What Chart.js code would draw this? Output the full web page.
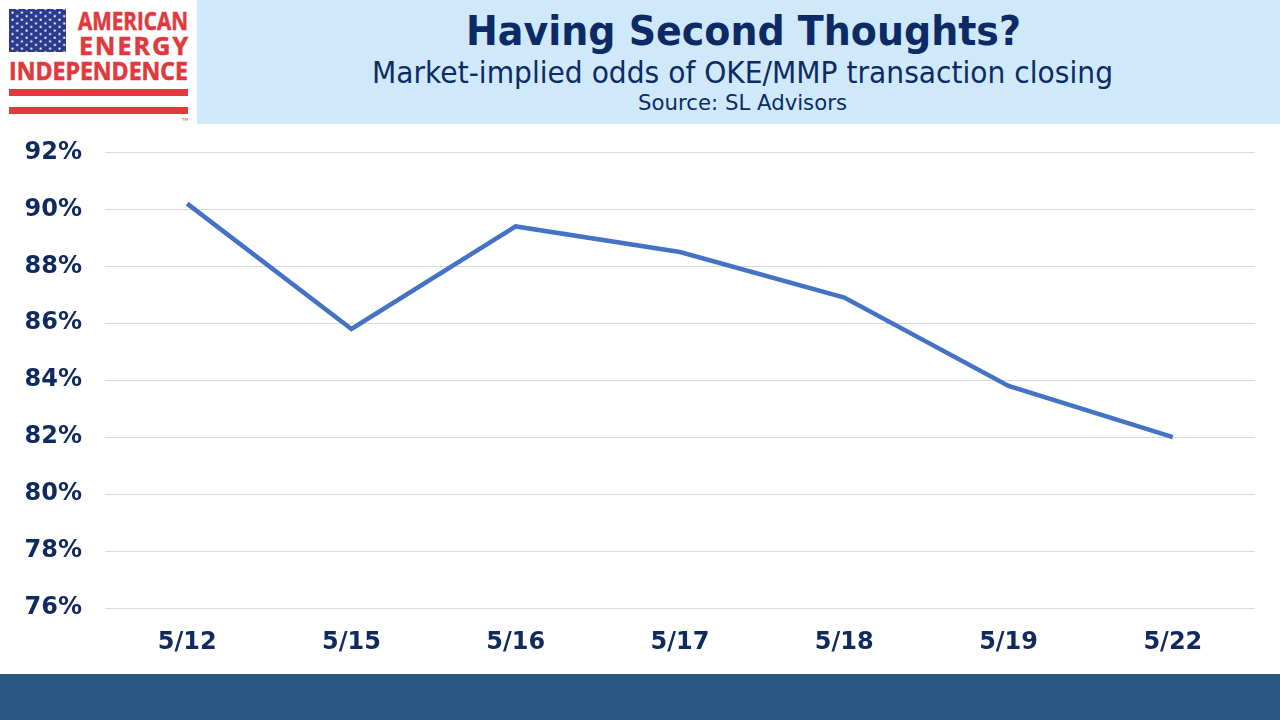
<!DOCTYPE html>
<html>
<head>
<meta charset="utf-8">
<script src="https://cdn.jsdelivr.net/npm/chart.js@4.4.1/dist/chart.umd.min.js"></script>
<style>
  html, body { margin: 0; padding: 0; background: #fff; }
  #page { position: relative; width: 1280px; height: 720px; overflow: hidden; background: #fff; }
  #head { position: absolute; left: 0; top: 0; }
  #plot { position: absolute; left: 0; top: 115px; width: 1280px; height: 558px; }
  #band { position: absolute; left: 0; top: 674px; width: 1280px; height: 46px; background: #2a5784; }
</style>
</head>
<body>
<div id="page">
  <svg id="head" width="1280" height="125" xmlns="http://www.w3.org/2000/svg">
    <defs>
      <pattern id="stars" x="11" y="11" width="9.4" height="7.2" patternUnits="userSpaceOnUse">
        <circle cx="1.5" cy="1.5" r="1.1" fill="#fff"/>
        <circle cx="6.2" cy="5.1" r="1.1" fill="#fff"/>
      </pattern>
    </defs>
    <!-- logo -->
    <rect x="9" y="9" width="57" height="43" fill="#2b3a8e"/>
    <rect x="9" y="9" width="57" height="43" fill="url(#stars)"/>
    <g font-family="'Open Sans', 'DejaVu Sans', sans-serif" font-weight="bold" fill="#e03a3e" stroke="#e03a3e" stroke-width="0.6">
      <text x="78" y="30" font-size="25" textLength="110" lengthAdjust="spacingAndGlyphs">AMERICAN</text>
      <text x="79" y="55" font-size="25" textLength="109">ENERGY</text>
      <text x="9" y="80" font-size="25" textLength="179" lengthAdjust="spacingAndGlyphs">INDEPENDENCE</text>
    </g>
    <rect x="9" y="89" width="179" height="7" fill="#e03a3e"/>
    <rect x="9" y="107" width="179" height="7" fill="#e03a3e"/>
    <text x="182" y="121" font-size="4" fill="#777" font-family="DejaVu Sans">TM</text>
    <!-- header -->
    <rect x="197" y="0" width="1083" height="124" fill="#cfe9fb"/>
    <g font-family="'DejaVu Sans', Verdana, sans-serif" fill="#0c2b64">
      <text x="466" y="45" font-size="41" font-weight="bold" textLength="555" lengthAdjust="spacingAndGlyphs">Having Second Thoughts?</text>
      <text x="372" y="83" font-size="31" textLength="741" lengthAdjust="spacingAndGlyphs">Market-implied odds of OKE/MMP transaction closing</text>
      <text x="638" y="110" font-size="22" textLength="209" lengthAdjust="spacingAndGlyphs">Source: SL Advisors</text>
    </g>
  </svg>
  <div id="plot"><canvas id="oddsChart"></canvas></div>
  <div id="band"></div>
</div>
<script>
// odds the market puts on the OKE/MMP deal closing
const dates = ['5/12', '5/15', '5/16', '5/17', '5/18', '5/19', '5/22'];
const odds = [90.2, 85.8, 89.4, 88.5, 86.9, 83.8, 82.0];
const yMin = 76;
const yMax = 92;
const yStep = 2;

const navy = '#0f2a5e';
const tickFont = { family: "'DejaVu Sans', Verdana, sans-serif", size: 24, weight: 'bold' };

const ctx = document.getElementById('oddsChart').getContext('2d');
new Chart(ctx, {
    type: 'line',
    data: {
        labels: dates,
        datasets: [{
            data: odds,
            borderColor: '#4472c4',
            borderWidth: 4.5,
            pointRadius: 0,
            tension: 0,
            fill: false
        }]
    },
    options: {
        responsive: true,
        maintainAspectRatio: false,
        animation: false,
        layout: { padding: { top: 0, right: 25, bottom: 19, left: 0 } },
        plugins: {
            legend: { display: false },
            tooltip: { enabled: false }
        },
        scales: {
            x: {
                offset: true,
                afterFit: function (scale) { scale.height = 46; },
                grid: { display: false },
                border: { display: false },
                ticks: { color: navy, font: tickFont, padding: 12, maxRotation: 0 }
            },
            y: {
                min: yMin,
                max: yMax,
                afterFit: function (scale) { scale.width = 105; },
                grid: { color: '#d9d9d9', lineWidth: 1, drawTicks: false },
                border: { display: false },
                ticks: {
                    stepSize: yStep,
                    color: navy,
                    font: tickFont,
                    padding: 23,
                    callback: function (v) { return v + '%'; }
                }
            }
        }
    }
});
</script>
</body>
</html>
